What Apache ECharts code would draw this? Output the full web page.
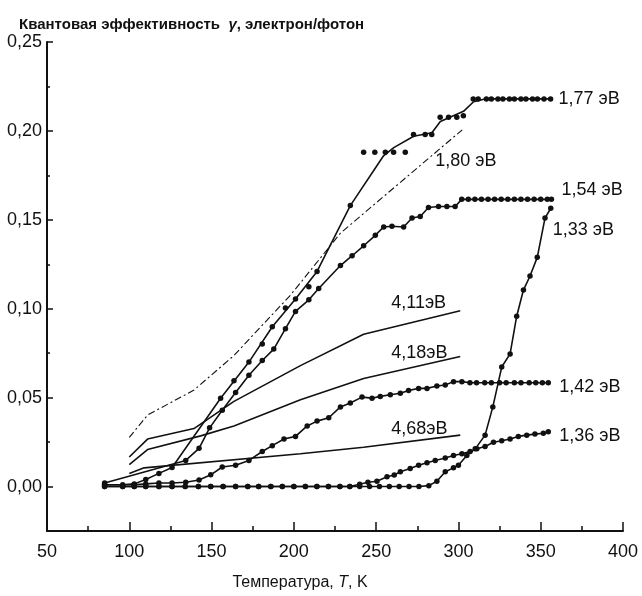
<!DOCTYPE html>
<html>
<head>
<meta charset="utf-8">
<script src="https://cdn.jsdelivr.net/npm/echarts@6/dist/echarts.min.js"></script>
<style>
html, body { margin: 0; padding: 0; background: #fff; }
#chart { width: 642px; height: 596px; }
</style>
</head>
<body>
<div id="chart"></div>
<script>
// тик-метки осей
var xTicks = [50, 100, 150, 200, 250, 300, 350, 400];
var yTicks = [0, 0.05, 0.10, 0.15, 0.20, 0.25];
var yMinorTicks = [0.025, 0.075, 0.125, 0.175, 0.225];

// 1,77 эВ: сглаживающая линия и точки отдельно
var c177Line = [[85,0.001],[96,0.001],[103,0.0015],[110,0.004],[118,0.0074],[126,0.0107],
    [155.5,0.0497],[172.7,0.070],[186.9,0.0899],[201,0.1055],[214.1,0.121],[234.3,0.158],
    [254.5,0.186],[260.7,0.1906],[272.8,0.197],[283.9,0.199],[289,0.2053],[303.1,0.211],
    [309.2,0.2164],[316,0.218],[356,0.218]];
var c177Dots = [[85,0.001],[96,0.001],[103,0.0015],[110,0.004],[118,0.0074],[126,0.0107],
    [155.5,0.0497],[163.6,0.0595],[172.7,0.070],[180.8,0.0801],[186.9,0.0899],[194.9,0.1004],
    [201,0.1055],[209.1,0.1123],[214.1,0.121],[234.3,0.158],
    [242.4,0.188],[249.2,0.188],[255.6,0.188],[260.6,0.188],[267.7,0.188],
    [272.7,0.198],[279.8,0.198],[283.8,0.198],
    [288.9,0.2077],[294,0.2077],[299,0.2077],[303,0.2085],
    [309,0.218],[312,0.218],[317,0.218],[320,0.218],[324,0.218],[327,0.218],[331,0.218],
    [334,0.218],[338,0.218],[341,0.218],[345,0.218],[348,0.218],[352,0.218],[356,0.218]];

// кривые с точками [T, gamma]
var c154 = [[85,0.002],[134.3,0.0147],[142.4,0.0215],[148.8,0.033],[156.5,0.0429],[164.6,0.0529],
    [172.7,0.0626],[180.8,0.0709],[187.8,0.0773],[194.9,0.0888],[201,0.0985],[209.1,0.105],
    [215.1,0.1114],[228.3,0.1243],[235.4,0.1298],[242.4,0.1354],[249.5,0.1413],[254.6,0.146],
    [259.6,0.1464],[266.7,0.146],[271.8,0.151],[276.8,0.1519],[281.8,0.1569],[287.9,0.1575],
    [293,0.1575],[298,0.1575],
    [302,0.1615],[306,0.1615],[310,0.1615],[314,0.1615],[318,0.1615],[322,0.1615],[326,0.1615],
    [330,0.1615],[334,0.1615],[338,0.1615],[342,0.1615],[346,0.1615],[350,0.1615],[354,0.1615],[356.5,0.1615]];

var c133 = [[85,0],[96,0],[103,0],[110,0],[118,0],[126,0],[134,0],[142,0],[149.5,0],[157,0],
    [164.6,0],[172,0],[178.6,0],[186,0],[193,0],[200,0],[207,0],[214,0],[221,0],[228,0],[234,0],
    [240,0],[246,0],[252,0],[258,0],[264,0],[270,0],[276,0],[282,0.0005],
    [286.9,0.003],[292,0.0083],[297,0.0105],[300,0.012],[305.1,0.0175],[310.2,0.0212],
    [316.2,0.0289],[320.9,0.0448],[326.3,0.0672],[331.4,0.0746],[335.4,0.0958],[339.5,0.1105],
    [343.5,0.1184],[347.9,0.1289],[352.6,0.151],[356.1,0.1565]];

var c136 = [[85,0],[96,0],[103,0],[110,0],[118,0],[126,0],[134,0],[142,0],[149.5,0],[157,0],
    [164.6,0],[172,0],[178.6,0],[186,0],[193,0],[200,0],[207,0],[214,0],[221,0],[228,0],[234,0],
    [240,0.0013],[245,0.0024],[250.5,0.003],[256.6,0.0055],[261,0.0065],[264.7,0.0083],
    [270.7,0.0101],[275.8,0.012],[280.9,0.0134],[285.9,0.0147],[292,0.016],[297,0.0175],
    [302.1,0.0184],[307.1,0.0197],[311.2,0.0212],[316.2,0.0225],[321.3,0.0249],[326.3,0.0258],
    [331.4,0.0267],[336.4,0.0282],[341.5,0.0289],[346.5,0.0295],[351.6,0.03],[354.6,0.0308]];

var c142 = [[85,0.001],[103,0.001],[110,0.0015],[118,0.002],[126,0.002],[134.3,0.0024],
    [142.4,0.0037],[149.5,0.0066],[156.5,0.011],[164.6,0.012],[172.7,0.0147],[180.8,0.0197],
    [186.9,0.023],[194,0.0267],[201,0.0282],[208.1,0.0341],[214.1,0.0368],[221.2,0.0387],
    [228.3,0.0448],[234.3,0.047],[241.4,0.0503],[247.5,0.0497],[252.5,0.0507],[258.6,0.0516],
    [264.7,0.0525],[269.7,0.054],[275.8,0.0552],[280.9,0.0552],[286.9,0.0565],[292,0.0571],
    [297,0.059],[302.1,0.059],
    [307,0.0584],[311,0.0584],[316,0.0584],[320,0.0584],[325,0.0584],[329,0.0584],[334,0.0584],
    [338,0.0584],[343,0.0584],[347,0.0584],[351,0.0584],[354.6,0.0584]];

// линии без точек
var c180 = [[100,0.0276],[111.2,0.0403],[139.1,0.0541],[163.4,0.0735],[198,0.1077],[228.3,0.1425],[302.3,0.2006]];
var c411 = [[100,0.0166],[111.1,0.0267],[139.3,0.0326],[163.6,0.0479],[204,0.068],[242.4,0.0856],[301.1,0.0989]];
var c418 = [[100,0.0123],[111.1,0.0208],[143.4,0.0285],[163.6,0.0341],[204,0.0488],[242.4,0.0608],[301.1,0.0731]];
var c468 = [[100,0.0074],[109,0.0105],[204,0.0184],[242.4,0.0221],[301.1,0.0289]];

var FONT = "'Liberation Sans Narrow', 'Liberation Sans', Arial, sans-serif";
var INK = '#111';

var curves = [
    { name: '1,77 эВ', data: c177Line, offset: [0, 0] },
    { name: '1,54 эВ', data: c154, dots: true, offset: [2, -9] },
    { name: '1,33 эВ', data: c133, dots: true, offset: [-6, 22] },
    { name: '1,42 эВ', data: c142, dots: true, offset: [3, 4] },
    { name: '1,36 эВ', data: c136, dots: true, offset: [3, 4] },
    { name: '1,80 эВ', data: c180, dash: true, offset: [-35, 31] },
    { name: '4,11эВ', data: c411, offset: [-77, -8] },
    { name: '4,18эВ', data: c418, offset: [-77, -4] },
    { name: '4,68эВ', data: c468, offset: [-77, -6] }
];

var series = curves.map(function (c) {
    return {
        name: c.name,
        type: 'line',
        data: c.data,
        showSymbol: !!c.dots,
        symbol: 'circle',
        symbolSize: 5.5,
        itemStyle: { color: INK },
        lineStyle: {
            color: INK,
            width: c.dash ? 1.1 : 1.6,
            type: c.dash ? [7, 3, 2, 3] : 'solid'
        },
        endLabel: {
            show: true,
            formatter: c.name,
            offset: c.offset,
            color: INK,
            fontSize: 18,
            fontFamily: FONT
        },
        silent: true
    };
});

// точки кривой 1,77 эВ
series.push({
    type: 'scatter',
    data: c177Dots,
    symbol: 'circle',
    symbolSize: 5.5,
    itemStyle: { color: INK, opacity: 1 },
    silent: true
});

// короткие промежуточные штрихи на оси Y
series.push({ type: 'line', yAxisIndex: 1, data: [] });

var myChart = echarts.init(document.getElementById('chart'));
var option = {
    animation: false,
    backgroundColor: '#fff',
    title: {
        text: '{a|Квантовая эффективность  }{i|γ}{a|, электрон/фотон}',
        left: 14,
        top: 12,
        textStyle: {
            rich: {
                a: { fontSize: 15, fontWeight: 'bold', fontFamily: FONT, color: INK },
                i: { fontSize: 15, fontWeight: 'bold', fontStyle: 'italic', fontFamily: FONT, color: INK }
            }
        }
    },
    grid: { left: 47, right: 19, top: 42, bottom: 56 },
    xAxis: {
        type: 'value',
        min: 50,
        max: 400,
        interval: 50,
        name: '{a|Температура, }{i|T}{a|, K}',
        nameLocation: 'middle',
        nameGap: 44,
        nameTextStyle: {
            padding: [0, 70, 0, 0],
            rich: {
                a: { fontSize: 16, fontFamily: FONT, color: INK },
                i: { fontSize: 16, fontStyle: 'italic', fontFamily: FONT, color: INK }
            }
        },
        axisLine: { onZero: false, lineStyle: { color: INK, width: 2 } },
        axisTick: { inside: true, length: 9, lineStyle: { color: INK, width: 1.5 } },
        minorTick: { show: true, splitNumber: 2, length: 5, lineStyle: { color: INK, width: 1.5 } },
        axisLabel: {
            margin: 12,
            fontSize: 18,
            fontFamily: "'Liberation Sans', Arial, sans-serif",
            color: INK,
            customValues: xTicks
        },
        splitLine: { show: false }
    },
    yAxis: [{
        type: 'value',
        min: -0.025,
        max: 0.25,
        interval: 0.025,
        axisLine: { onZero: false, lineStyle: { color: INK, width: 2 } },
        axisTick: { inside: true, length: 6, customValues: yTicks, lineStyle: { color: INK, width: 1.5 } },
        axisLabel: {
            margin: 5,
            fontSize: 18,
            fontFamily: "'Liberation Sans', Arial, sans-serif",
            color: INK,
            customValues: yTicks,
            formatter: function (v) { return v.toFixed(2).replace('.', ','); }
        },
        splitLine: { show: false }
    }, {
        type: 'value',
        position: 'left',
        min: -0.025,
        max: 0.25,
        interval: 0.025,
        axisLine: { show: false },
        axisTick: { inside: true, length: 3, customValues: yMinorTicks, lineStyle: { color: INK, width: 1.5 } },
        axisLabel: { show: false },
        splitLine: { show: false }
    }],
    series: series
};
myChart.setOption(option);
</script>
</body>
</html>
